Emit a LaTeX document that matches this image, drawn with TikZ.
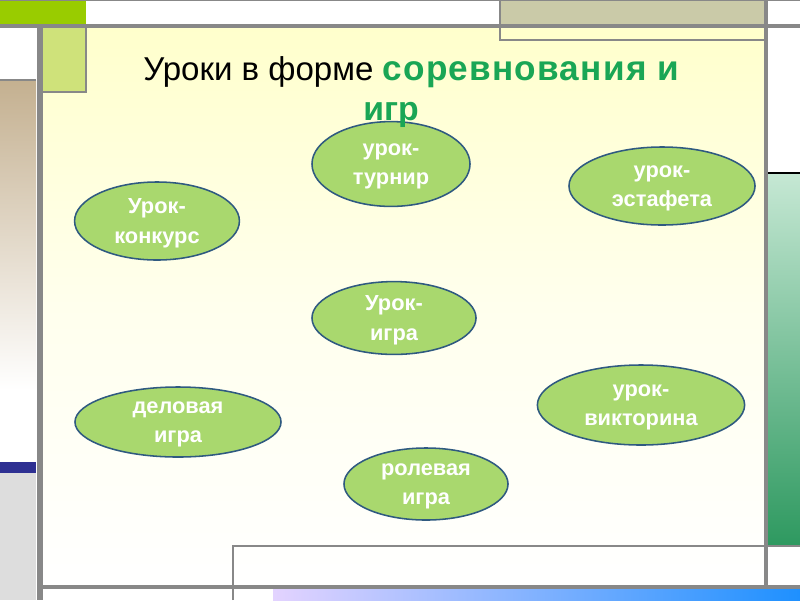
\documentclass[tikz,border=0pt]{standalone}
\usepackage{fontspec}
\setmainfont{Liberation Sans}
\usetikzlibrary{shapes.geometric, positioning}
\definecolor{formgreen}{HTML}{A9D86E}
\definecolor{formblue}{HTML}{2F5A80}
\definecolor{titlegreen}{HTML}{1AA655}
\definecolor{frameline}{HTML}{888888}
\definecolor{limebar}{HTML}{99CC00}
\definecolor{limebox}{HTML}{CFE27A}
\definecolor{khaki}{HTML}{CACAA8}
\definecolor{paper}{HTML}{FFFFCC}
\definecolor{beige}{HTML}{C4B090}
\definecolor{navybar}{HTML}{2E3092}
\definecolor{greybox}{HTML}{DDDDDD}
\definecolor{mintbar}{HTML}{C6E8D4}
\definecolor{seabar}{HTML}{2E9960}
\definecolor{lavender}{HTML}{E3D3FF}
\definecolor{skybar}{HTML}{1E90FF}
\tikzset{
	formnode/.style={
			ellipse,
			draw=formblue,
			fill=formgreen,
			line width=1.1pt,
			inner sep=0pt,
			align=center,
			text depth=0pt,
			text=white,
			font=\bfseries\fontsize{15.5}{21}\selectfont
		},
	titlenode/.style={
			inner sep=0pt,
			font=\fontsize{23.5}{28}\selectfont
		},
	thinline/.style={
			draw=frameline,
			line width=1pt
		},
	thickline/.style={
			draw=frameline,
			line width=2.5pt
		}
}

\begin{document}
\begin{tikzpicture}[x=0.025cm, y=-0.025cm]
\useasboundingbox (0,0) rectangle (800,600);
% frame and coloured bars
\fill[white] (0,0) rectangle (800,600);
\fill[limebar] (0,0) rectangle (86,26);
\fill[khaki] (500,0) rectangle (766,26);
\fill[top color=paper, bottom color=white, middle color=paper!35] (43,27) rectangle (765,587);
\fill[paper] (500,27) rectangle (765,40);
\fill[limebox] (43,27) rectangle (86,92);
\draw[thinline] (43,92) -- (86,92) -- (86,27);
\fill[top color=beige, bottom color=white] (0,80) rectangle (36,390);
\fill[navybar] (0,462) rectangle (36,473);
\fill[greybox] (0,473) rectangle (36,600);
\draw[thinline] (0,80) -- (36,80);
\fill[top color=mintbar, bottom color=seabar] (768,173) rectangle (800,545);
\draw[black, line width=0.8pt] (768,173) -- (800,173);
\fill[left color=lavender, right color=skybar] (273,588) rectangle (800,600);
\draw[thinline] (0,0.5) -- (800,0.5);
\draw[thinline] (500,0) -- (500,40) -- (766,40);
\draw[thinline] (233,600) -- (233,546) -- (800,546);
\draw[thickline] (0,26) -- (800,26);
\draw[thickline] (766,0) -- (766,587);
\draw[line width=4pt, frameline] (40,26) -- (40,600);
\draw[thickline] (40,587) -- (800,587);

% forms of lessons
\node[formnode, minimum width=3.95cm, minimum height=2.12cm] (n1) at (391,164) {урок-\\турнир};
\node[formnode, minimum width=4.65cm, minimum height=1.95cm] (n2) at (662,186) {урок-\\эстафета};
\node[formnode, minimum width=4.12cm, minimum height=1.95cm] (n3) at (157,221) {Урок-\\конкурс};
\node[formnode, minimum width=4.1cm, minimum height=1.82cm] (n4) at (394,318) {Урок-\\игра};
\node[formnode, minimum width=5.18cm, minimum height=2.0cm] (n5) at (641,405) {урок-\\викторина};
\node[formnode, minimum width=5.15cm, minimum height=1.75cm] (n6) at (178,422) {деловая\\игра};
\node[formnode, minimum width=4.1cm, minimum height=1.8cm] (n7) at (426,484) {ролевая\\игра};

% title
\node[titlenode, anchor=base west] (t1) at (143,80) {Уроки в форме \textcolor{titlegreen}{\bfseries\fontsize{25}{28}\selectfont\addfontfeatures{LetterSpace=3.5}соревнования и}};
\node[titlenode, anchor=base, text=titlegreen, font=\bfseries\fontsize{24}{28}\selectfont] (t2) at (391,120) {игр};
\end{tikzpicture}
\end{document}
